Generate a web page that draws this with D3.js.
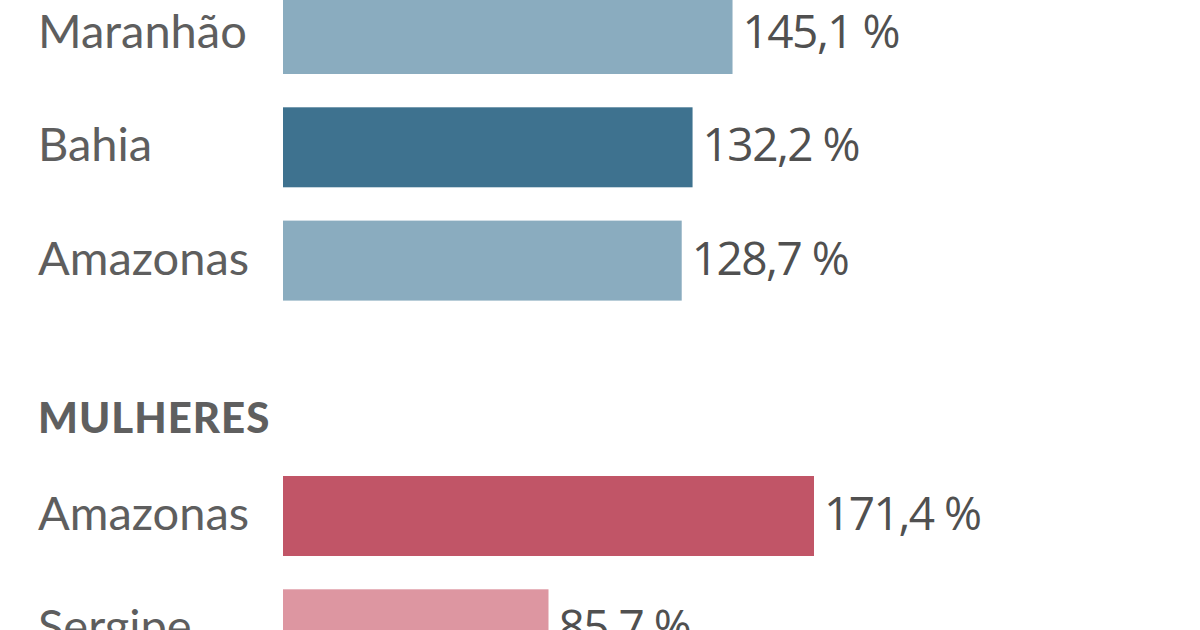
<!DOCTYPE html>
<html>
<head>
<meta charset="utf-8">
<script src="https://cdn.jsdelivr.net/npm/d3@7"></script>
<style>
  html, body { margin: 0; padding: 0; background: #fff; overflow: hidden; }
</style>
</head>
<body>
<script>
// Homens (parte visível)
const menStates = ["Maranhão", "Bahia", "Amazonas"];
const menValues = [145.1, 132.2, 128.7];
const menColors = ["#8aacbf", "#3e728f", "#8aacbf"];

// Mulheres
const womenTitle = "MULHERES";
const womenStates = ["Amazonas", "Sergipe"];
const womenValues = [171.4, 85.7];
const womenColors = ["#c15567", "#dd96a1"];

const width = 1200;
const height = 630;
const barLeft = 283;
const labelLeft = 38;

const x = d3.scaleLinear()
    .domain([0, 171.4])
    .range([barLeft, 814]);

const svg = d3.create("svg")
    .attr("width", width)
    .attr("height", height)
    .attr("viewBox", `0 0 ${width} ${height}`);

function drawGroup(states, values, colors, top) {
    const n = states.length;
    const y = d3.scaleBand()
        .domain(d3.range(n))
        .range([top, top + n * 113.3 - 33.3])
        .paddingInner(0.294)
        .paddingOuter(0);

    const g = svg.append("g");

    g.selectAll("rect")
        .data(values)
        .enter()
        .append("rect")
        .attr("x", x(0))
        .attr("y", (d, i) => y(i))
        .attr("width", d => x(d) - x(0))
        .attr("height", y.bandwidth())
        .attr("fill", (d, i) => colors[i]);

    g.selectAll(".label")
        .data(states)
        .enter()
        .append("text")
        .attr("class", "label")
        .attr("x", labelLeft)
        .attr("y", (d, i) => y(i) + y.bandwidth() / 2 + 14)
        .style("font-family", "Lato, sans-serif")
        .style("font-size", "47px")
        .attr("fill", "#5e5e5e")
        .text(d => d);

    g.selectAll(".value")
        .data(values)
        .enter()
        .append("text")
        .attr("class", "value")
        .attr("x", d => x(d) + 10)
        .attr("y", (d, i) => y(i) + y.bandwidth() / 2 + 14)
        .style("font-family", "'Open Sans', sans-serif")
        .style("font-size", "46px")
        .style("letter-spacing", "-1.5px")
        .attr("fill", "#505050")
        .text(d => d3.format(".1f")(d).replace(".", ",") + " %");
}

drawGroup(menStates, menValues, menColors, -6);

svg.append("text")
    .attr("x", labelLeft)
    .attr("y", 433)
    .style("font-family", "Lato, sans-serif")
    .style("font-size", "42px")
    .style("font-weight", "900")
    .style("letter-spacing", "1px")
    .attr("fill", "#5f5f5f")
    .text(womenTitle);

drawGroup(womenStates, womenValues, womenColors, 476);

document.body.appendChild(svg.node());
</script>
</body>
</html>
